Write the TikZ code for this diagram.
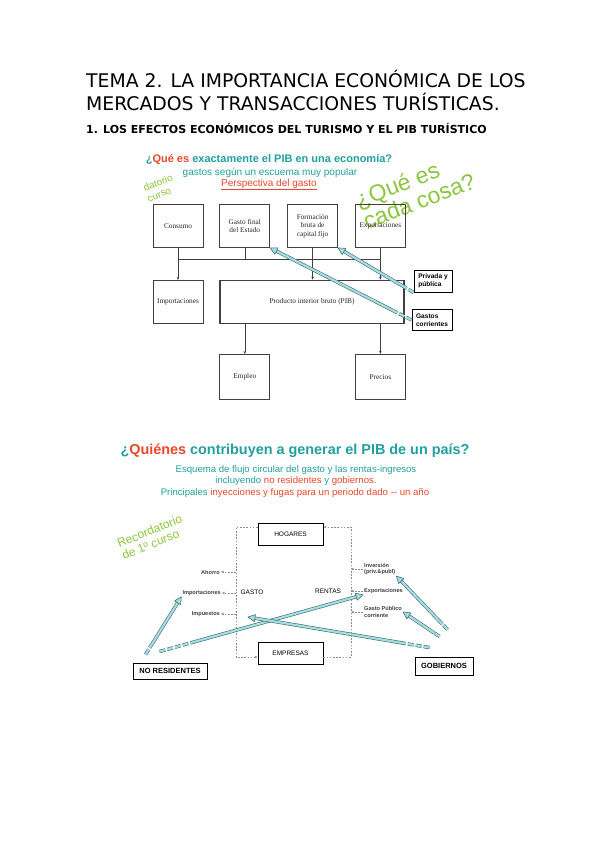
\documentclass[tikz,border=0pt]{standalone}
\usepackage{fontspec}
\setmainfont{DejaVu Sans}
\newfontfamily\arialf{Liberation Sans}
\newfontfamily\scanf{Liberation Serif}
\usetikzlibrary{arrows.meta,positioning,calc}
\definecolor{tq}{HTML}{22A09E}\definecolor{rd}{HTML}{E8472B}\definecolor{gr}{HTML}{8DC63F}
\definecolor{cy}{HTML}{A8DDE0}\definecolor{cyd}{HTML}{3F7078}
\newcommand\fz[2]{\fontsize{#1}{#2}\selectfont}
\tikzset{bx/.style={draw=black!75,line width=.8pt,align=center,font=\scanf\fz{7.3}{8.3},text=black!85,minimum width=50pt,minimum height=43pt,inner sep=1pt},
 cb/.style={draw,line width=.9pt,align=left,font=\arialf\bfseries\fz{6.6}{7.6},inner sep=2pt},
 fb/.style={draw,line width=.9pt,font=\arialf\fz{6.5}{7},minimum width=65pt,minimum height=22pt},
 lk/.style={font=\arialf\bfseries\fz{5.6}{6.4},text=black!75,inner sep=1pt,align=left},
 gt/.style={font=\arialf\fz{9.6}{12},text=tq,anchor=base},
 ar/.style={-{Stealth[length=3pt,width=2.6pt]}},ln/.style={black!75,line width=.6pt},
 dl/.style={black!45,line width=.8pt,dash pattern=on 1.6pt off 1.6pt}}
% fat hand-drawn arrow: tail, head, dashed part
\newcommand\fat[3]{\coordinate (t) at (#1);\coordinate (h) at (#2);
 \coordinate (k) at ($(h)!7pt!(t)$);\coordinate (m) at ($(t)!#3!(h)$);
 \foreach \ww/\cc in {3.4pt/cyd,2.2pt/cy}{\draw[line width=\ww,\cc,dash pattern=on 6pt off 2pt](t)--(m);\draw[line width=\ww,\cc](m)--(k);}
 \filldraw[fill=cy,draw=cyd,line width=.6pt,line join=round](h)--($(k)!3.6pt!90:(h)$)--($(k)!3.6pt!-90:(h)$)--cycle;}
\begin{document}
\begin{tikzpicture}[x=1pt,y=-1pt,node distance=16pt]
\fill[white](0,0) rectangle (599,848);\useasboundingbox (0,0) rectangle (599,848);
\node[anchor=base west,font=\fz{18.8}{23},inner sep=0](t1) at (86,88){TEMA 2. LA IMPORTANCIA ECONÓMICA DE LOS};
\node[anchor=base west,font=\fz{18.8}{23},inner sep=0](t2) at (86,111){MERCADOS Y TRANSACCIONES TURÍSTICAS.};
\node[anchor=base west,font=\bfseries\fz{11}{13},inner sep=0](h1) at (86,134){1. LOS EFECTOS ECONÓMICOS DEL TURISMO Y EL PIB TURÍSTICO};
% diagram 1
\node[gt,font=\arialf\bfseries\fz{11}{13}](q1) at (269,162){¿\textcolor{rd}{Qué es} exactamente el PIB en una economía?};
\node[gt,font=\arialf\fz{10}{12}](q2) at (270,175){gastos según un escuema muy popular};
\node[gt,font=\arialf\fz{10}{12},text=rd](q3) at (269,186){\underline{Perspectiva del gasto}};
\node[rotate=22,align=left,font=\arialf\fz{10}{11},text=gr](dc) at (160,188){datorio\\curso};
\node[rotate=21,align=left,font=\arialf\fz{23}{23},text=gr](qc) at (415,190){¿Qué es\\cada cosa?};
\node[bx](co) at (178,226){Consumo};\node[bx,right=of co](gf){Gasto final\\del Estado};
\node[bx,right=17pt of gf](fo){Formación\\bruta de\\capital fijo};\node[bx,right=17pt of fo](ex){Exportaciones};
\node[bx,below=32pt of co](im){Importaciones};
\node[bx,minimum width=184pt,line width=1.3pt,anchor=west](pib) at (gf.west|-im){Producto interior bruto (PIB)};
\node[bx,minimum height=45pt,below=30pt of pib.south-|gf](em){Empleo};\node[bx,minimum height=45pt,below=30pt of pib.south-|ex](pr){Precios};
\coordinate (bus) at (0,259);
\draw[ln](co.south)--(co.south|-bus)--(ex.south|-bus)--(ex.south);\draw[ln](gf.south)--(gf.south|-bus);\draw[ln](fo.south)--(fo.south|-bus);
\draw[ln,ar](co.south|-bus)--(im);\draw[ln,ar](fo.south|-bus)--(fo.south|-pib.north);\draw[ln,ar](ex.south|-bus)--(ex.south|-pib.north);
\draw[ln,ar](pib.south-|em)--(em);\draw[ln,ar](pib.south-|pr)--(pr);
\node[cb,minimum width=38pt,minimum height=22pt](pp) at (433,281){Privada y\\pública};
\node[cb,minimum width=40pt,minimum height=21pt](gc) at (432,320){Gastos\\corrientes};
\fat{gc.west}{gf.south east}{.1}\fat{pp.south west}{fo.south east}{.15}
% diagram 2
\node[gt,font=\arialf\bfseries\fz{14.4}{16}](w1) at (295,454){¿\textcolor{rd}{Quiénes} contribuyen a generar el PIB de un país?};
\node[gt](w2) at (296,472){Esquema de flujo circular del gasto y las rentas-ingresos};
\node[gt](w3) at (296,483){incluyendo \textcolor{rd}{no residentes} y \textcolor{rd}{gobiernos.}};
\node[gt](w4) at (295,495){Principales \textcolor{rd}{inyecciones y fugas para un periodo dado -- un año}};
\node[rotate=22,align=left,font=\arialf\fz{12}{13},text=gr](rc) at (152,537){Recordatorio\\de 1º curso};
\node[fb](ho) at (290.5,534){HOGARES};\node[fb](ep) at (290.5,653){EMPRESAS};
\coordinate (lf) at (236,590);\coordinate (rt) at (351,590);
\draw[dl,ar]([yshift=7pt]ho.west)-|(lf)|-([yshift=-4pt]ep.west);\draw[dl,ar]([yshift=-4pt]ep.east)-|(rt)|-([yshift=7pt]ho.east);
\node[font=\arialf\fz{6.5}{7}](ga) at (252,592){GASTO};\node[font=\arialf\fz{6.5}{7}](re) at (328,591){RENTAS};
\node[lk,anchor=east](ah) at (221,572){Ahorro};\node[lk,anchor=east](ip2) at (222,593){Importaciones};\node[lk,anchor=east](ip) at (221,614){Impuestos};
\node[lk,anchor=west](inv) at (363,569){Inversión\\(priv.\&publ)};\node[lk,anchor=west](ex2) at (363,591){Exportaciones};\node[lk,anchor=west](gp) at (363,612){Gasto Público\\corriente};
\foreach \n in {ah,ip2,ip}{\draw[dl,ar](\n.east-|lf)--(\n.east);}
\foreach \n in {inv,ex2,gp}{\draw[dl,ar](\n.west)--(\n.west-|rt);}
\node[draw,line width=.9pt,font=\arialf\bfseries\fz{7.5}{8},minimum width=74pt,minimum height=16pt](nr) at (170,671){NO RESIDENTES};
\node[draw,line width=.9pt,font=\arialf\bfseries\fz{7.5}{8},minimum width=58pt,minimum height=18pt](gob) at (444,666){GOBIERNOS};
\fat{[xshift=13pt,yshift=8pt]nr.north west}{ip2.south west}{.12}\fat{[xshift=27pt,yshift=11pt]nr.north west}{ex2.south west}{.17}
\fat{[xshift=15pt,yshift=9pt]gob.north west}{[xshift=27pt,yshift=-3pt]ip.east}{.14}
\fat{[xshift=33pt,yshift=27pt]gob.north west}{inv.south east}{.1}\fat{[xshift=25pt,yshift=20pt]gob.north west}{gp.east}{.15}
\end{tikzpicture}
\end{document}
